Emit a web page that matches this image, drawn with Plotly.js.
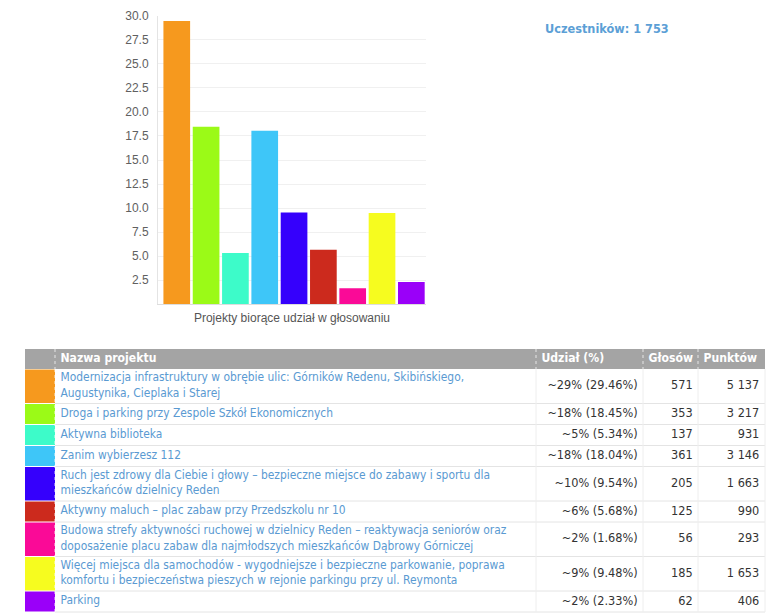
<!DOCTYPE html>
<html><head><meta charset="utf-8">
<script src="https://cdn.plot.ly/plotly-3.0.1.min.js"></script>
<style>html,body{margin:0;padding:0;background:#fff;overflow:hidden}#chart{width:768px;height:616px}</style>
</head><body><div id="chart"></div>
<script>
// ---------- DATA ----------
const projectNames = [
  'Modernizacja infrastruktury w obrębie ulic: Górników Redenu, Skibińskiego, Augustynika, Cieplaka i Starej',
  'Droga i parking przy Zespole Szkół Ekonomicznych',
  'Aktywna biblioteka',
  'Zanim wybierzesz 112',
  'Ruch jest zdrowy dla Ciebie i głowy – bezpieczne miejsce do zabawy i sportu dla mieszkańców dzielnicy Reden',
  'Aktywny maluch – plac zabaw przy Przedszkolu nr 10',
  'Budowa strefy aktywności ruchowej w dzielnicy Reden – reaktywacja seniorów oraz doposażenie placu zabaw dla najmłodszych mieszkańców Dąbrowy Górniczej',
  'Więcej miejsca dla samochodów - wygodniejsze i bezpieczne parkowanie, poprawa komfortu i bezpieczeństwa pieszych w rejonie parkingu przy ul. Reymonta',
  'Parking'
];
const projectColors = ['#F6991E', '#9BFA17', '#3DFBC9', '#3EC6F8', '#3500FC', '#CC2A1D', '#FA0A97', '#F6FC1F', '#9A00F9'];
const udzialPct = [29.46, 18.45, 5.34, 18.04, 9.54, 5.68, 1.68, 9.48, 2.33];
const glosow = [571, 353, 137, 361, 205, 125, 56, 185, 62];
const punktow = [5137, 3217, 931, 3146, 1663, 990, 293, 1653, 406];
const uczestnikow = 1753;
const yTickVals = [2.5, 5, 7.5, 10, 12.5, 15, 17.5, 20, 22.5, 25, 27.5, 30];
const headerLabels = ['', 'Nazwa projektu', 'Udział (%)', 'Głosów', 'Punktów'];
const xAxisTitle = 'Projekty biorące udział w głosowaniu';
const participantsLabel = 'Uczestników';

// ---------- LAYOUT CONSTANTS (pixels) ----------
const W = 768, H = 616;
const plotL = 158, plotR = 426, plotT = 15.7, plotB = 304.3;
const colX = [25, 55, 536, 643, 698, 765];
const headerTop = 349, headerH = 20, rowH = 21, lineH = 13.5, wrapChars = 80;
const FONT = 'DejaVu Sans Condensed';
const NAME_SIZE = 11.9, NUM_SIZE = 12.6, HEAD_SIZE = 12.1;

// ---------- helpers ----------
function wrap(s, n) {
  const words = s.split(' '); const lines = []; let cur = '';
  words.forEach(w => { const t = cur ? cur + ' ' + w : w; if (t.length > n && cur) { lines.push(cur); cur = w; } else cur = t; });
  if (cur) lines.push(cur);
  return lines;
}
const fmtThousands = v => String(v).replace(/\B(?=(\d{3})+(?!\d))/g, ' ');
const wrapped = projectNames.map(n => wrap(n, wrapChars));
const rowHeights = wrapped.map(l => rowH + lineH * (l.length - 1));
const rowTops = []; let acc = headerTop + headerH;
rowHeights.forEach(h => { rowTops.push(acc); acc += h; });
const rowCenters = rowTops.map((t, i) => t + rowHeights[i] / 2);
const tableBottom = acc;
const headerMid = headerTop + headerH / 2;

const traces = [];
// bar chart
traces.push({
  type: 'bar', x: projectNames, y: udzialPct, xaxis: 'x', yaxis: 'y',
  marker: {color: projectColors, line: {width: 0}}, hoverinfo: 'skip'
});
// swatches in table
traces.push({
  type: 'bar', orientation: 'h', xaxis: 'x2', yaxis: 'y2',
  y: rowCenters, x: rowCenters.map(() => colX[1] - colX[0]), base: colX[0],
  width: rowHeights.map(h => h - 1), marker: {color: projectColors, line: {width: 0}},
  hoverinfo: 'skip'
});
const txt = (xs, ys, texts, pos, color, size, weight) => ({
  type: 'scatter', mode: 'text', xaxis: 'x2', yaxis: 'y2', x: xs, y: ys, text: texts,
  textposition: pos, cliponaxis: false, hoverinfo: 'skip',
  textfont: {family: FONT, size: size, color: color, weight: weight || 'normal'}
});
// table body text
traces.push(txt(rowCenters.map(() => colX[1] + 5.5), rowCenters, wrapped.map(l => l.join('<br>')), 'middle right', '#5A9AD2', NAME_SIZE));
traces.push(txt(rowCenters.map(() => colX[3] - 5.3), rowCenters, udzialPct.map(v => '~' + Math.round(v) + '% (' + v.toFixed(2) + '%)'), 'middle left', '#333333', NUM_SIZE));
traces.push(txt(rowCenters.map(() => colX[4] - 5.3), rowCenters, glosow.map(fmtThousands), 'middle left', '#333333', NUM_SIZE));
traces.push(txt(rowCenters.map(() => colX[5] - 5.7), rowCenters, punktow.map(fmtThousands), 'middle left', '#333333', NUM_SIZE));
// header text
traces.push(txt(colX.slice(1, 5).map(x => x + 5.5), colX.slice(1, 5).map(() => headerMid), headerLabels.slice(1), 'middle right', '#FFFFFF', HEAD_SIZE, 'bold'));

// shapes
const shapes = [];
const S = (o) => Object.assign({xref: 'x2', yref: 'y2', layer: 'below'}, o);
shapes.push(S({type: 'rect', x0: colX[0], x1: colX[5], y0: headerTop, y1: headerTop + headerH, fillcolor: '#A4A4A4', line: {width: 0}}));
rowTops.forEach((t, i) => {
  shapes.push(S({type: 'line', x0: colX[1], x1: colX[5], y0: t + rowHeights[i], y1: t + rowHeights[i], line: {color: '#E4E4E4', width: 1}}));
});
[2, 3, 4, 5].forEach(c => shapes.push(S({type: 'line', x0: colX[c], x1: colX[c], y0: headerTop + headerH, y1: tableBottom, line: {color: '#EEEEEE', width: 1}})));
[1, 2, 3, 4].forEach(c => shapes.push(S({type: 'line', layer: 'above', x0: colX[c], x1: colX[c], y0: headerTop, y1: headerTop + headerH, line: {color: '#E6E6E6', width: 1, dash: 'dot'}})));
shapes.push(S({type: 'line', layer: 'above', x0: colX[1], x1: colX[1], y0: headerTop + headerH, y1: tableBottom, line: {color: 'rgba(255,255,255,0.8)', width: 1, dash: 'dot'}}));

const layout = {
  width: W, height: H, margin: {l: 0, r: 0, t: 0, b: 0},
  paper_bgcolor: '#FFFFFF', plot_bgcolor: 'rgba(0,0,0,0)',
  showlegend: false, bargap: 0.09,
  font: {family: 'Liberation Sans, Arial, sans-serif', size: 12, color: '#555'},
  xaxis: {
    domain: [plotL / W, plotR / W], range: [-0.64, 8.5], showticklabels: false, ticks: '',
    showgrid: false, zeroline: false, showline: true, linecolor: '#DDDDDD', linewidth: 1, fixedrange: true,
    title: {text: xAxisTitle, standoff: 9, font: {family: 'Liberation Sans, Arial, sans-serif', size: 12, color: '#555555'}}
  },
  yaxis: {
    domain: [1 - plotB / H, 1 - plotT / H], range: [0, 30], tickvals: yTickVals, tickformat: '.1f',
    ticks: '', ticklabelstandoff: 6, showgrid: true, gridcolor: '#F0F0F0', zeroline: false,
    showline: true, linecolor: '#E4E4E4', mirror: false, fixedrange: true,
    tickfont: {family: 'Liberation Sans, Arial, sans-serif', size: 12, color: '#606060'}
  },
  xaxis2: {domain: [0, 1], range: [0, W], anchor: 'y2', visible: false, fixedrange: true},
  yaxis2: {domain: [0, 1], range: [H, 0], anchor: 'x2', visible: false, fixedrange: true},
  shapes: shapes,
  annotations: [{
    xref: 'x2', yref: 'y2', x: 606.5, y: 28.5, xanchor: 'center', yanchor: 'middle', showarrow: false,
    text: participantsLabel + ': ' + fmtThousands(uczestnikow),
    font: {family: FONT, size: 12.6, color: '#5C9FD6', weight: 'bold'}
  }]
};
Plotly.newPlot('chart', traces, layout, {staticPlot: true, displayModeBar: false});
</script></body></html>
